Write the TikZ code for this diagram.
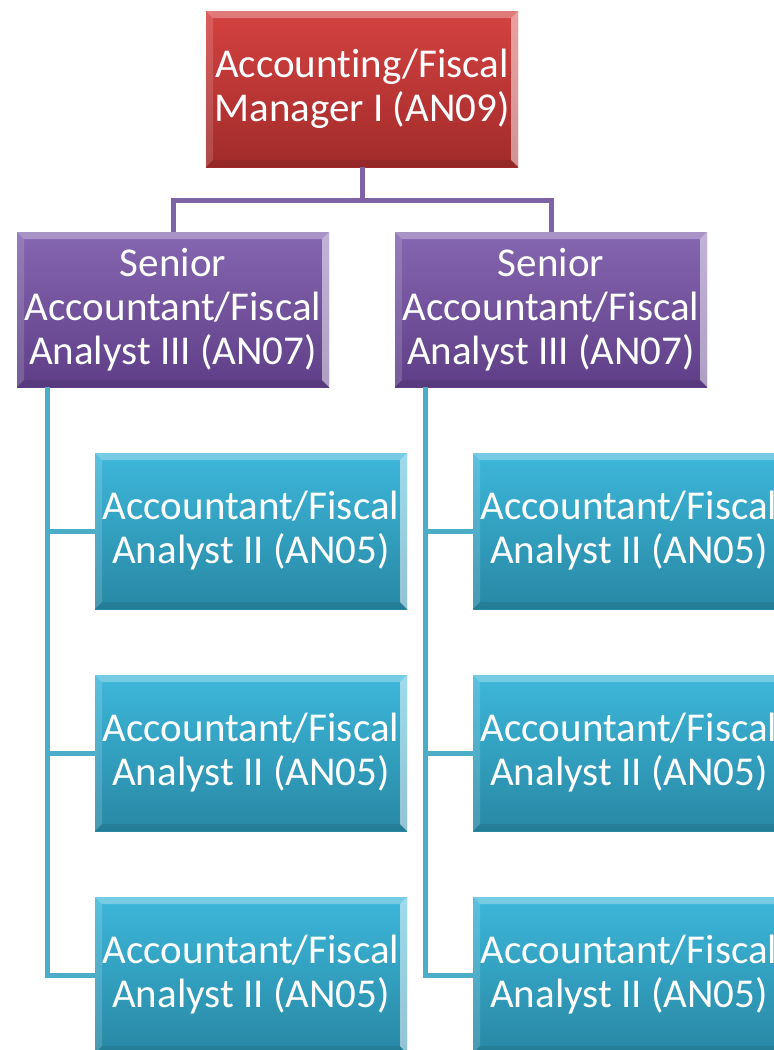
\documentclass[tikz,border=0pt]{standalone}
\usepackage{fontspec}
\setmainfont{Carlito}[Ligatures=NoCommon]
\definecolor{redT}{HTML}{D44241}
\definecolor{redB}{HTML}{A12B2A}
\definecolor{purT}{HTML}{8566B0}
\definecolor{purB}{HTML}{5E3F87}
\definecolor{cyaT}{HTML}{3DB7DA}
\definecolor{cyaB}{HTML}{2888A4}
\definecolor{purLine}{HTML}{7F63A7}
\definecolor{cyaLine}{HTML}{4BADC8}
\tikzset{
  bevel/.style={path picture={
    \def\b{7pt}
    \fill[white,opacity=0.3] (path picture bounding box.north west) -- (path picture bounding box.north east)
      -- ([xshift=-\b,yshift=-\b]path picture bounding box.north east) -- ([xshift=\b,yshift=-\b]path picture bounding box.north west) -- cycle;
    \fill[white,opacity=0.15] (path picture bounding box.north west) -- ([xshift=\b,yshift=-\b]path picture bounding box.north west)
      -- ([xshift=\b,yshift=\b]path picture bounding box.south west) -- (path picture bounding box.south west) -- cycle;
    \fill[white,opacity=0.5] (path picture bounding box.north east) -- ([xshift=-\b,yshift=-\b]path picture bounding box.north east)
      -- ([xshift=-\b,yshift=\b]path picture bounding box.south east) -- (path picture bounding box.south east) -- cycle;
    \fill[black,opacity=0.08] (path picture bounding box.south west) -- ([xshift=\b,yshift=\b]path picture bounding box.south west)
      -- ([xshift=-\b,yshift=\b]path picture bounding box.south east) -- (path picture bounding box.south east) -- cycle;
  }},
  box/.style={bevel, minimum width=312pt, inner sep=0pt, align=center, text=white,
    font=\fontsize{41}{44}\selectfont},
  redbox/.style={box, minimum height=156pt, top color=redT, bottom color=redB},
  purbox/.style={box, minimum height=155pt, top color=purT, bottom color=purB},
  cyabox/.style={box, minimum height=156pt, top color=cyaT, bottom color=cyaB},
  purline/.style={draw=purLine, line width=5pt},
  cyaline/.style={draw=cyaLine, line width=5pt},
}
\begin{document}
\begin{tikzpicture}[x=1pt,y=-1pt]
\useasboundingbox (0,0) rectangle (774,1050);
\clip (0,0) rectangle (774,1050);
\fill[white] (0,0) rectangle (774,1050);
% nodes
\node[redbox] (top) at (362,89) {Accounting/Fiscal\\Manager I (AN09)};
\node[purbox] (senL) at (173,309.5) {Senior\\Accountant/Fiscal\\Analyst III (AN07)};
\node[purbox] (senR) at (551,309.5) {Senior\\Accountant/Fiscal\\Analyst III (AN07)};
\node[cyabox] (cL1) at (251,531) {Accountant/Fiscal\\Analyst II (AN05)};
\node[cyabox] (cL2) at (251,753) {Accountant/Fiscal\\Analyst II (AN05)};
\node[cyabox] (cL3) at (251,975) {Accountant/Fiscal\\Analyst II (AN05)};
\node[cyabox] (cR1) at (629,531) {Accountant/Fiscal\\Analyst II (AN05)};
\node[cyabox] (cR2) at (629,753) {Accountant/Fiscal\\Analyst II (AN05)};
\node[cyabox] (cR3) at (629,975) {Accountant/Fiscal\\Analyst II (AN05)};
% connectors
\coordinate (mid) at ([yshift=-33pt]top.south);
\draw[purline] (top.south) -- (mid) -| (senL.north);
\draw[purline] (mid) -| (senR.north);
\coordinate (trL) at ([xshift=31pt]senL.south west);
\coordinate (trR) at ([xshift=31pt]senR.south west);
\draw[cyaline] (trL) |- (cL1.west);
\draw[cyaline] (trL) |- (cL2.west);
\draw[cyaline] (trL) |- (cL3.west);
\draw[cyaline] (trR) |- (cR1.west);
\draw[cyaline] (trR) |- (cR2.west);
\draw[cyaline] (trR) |- (cR3.west);
\end{tikzpicture}
\end{document}
